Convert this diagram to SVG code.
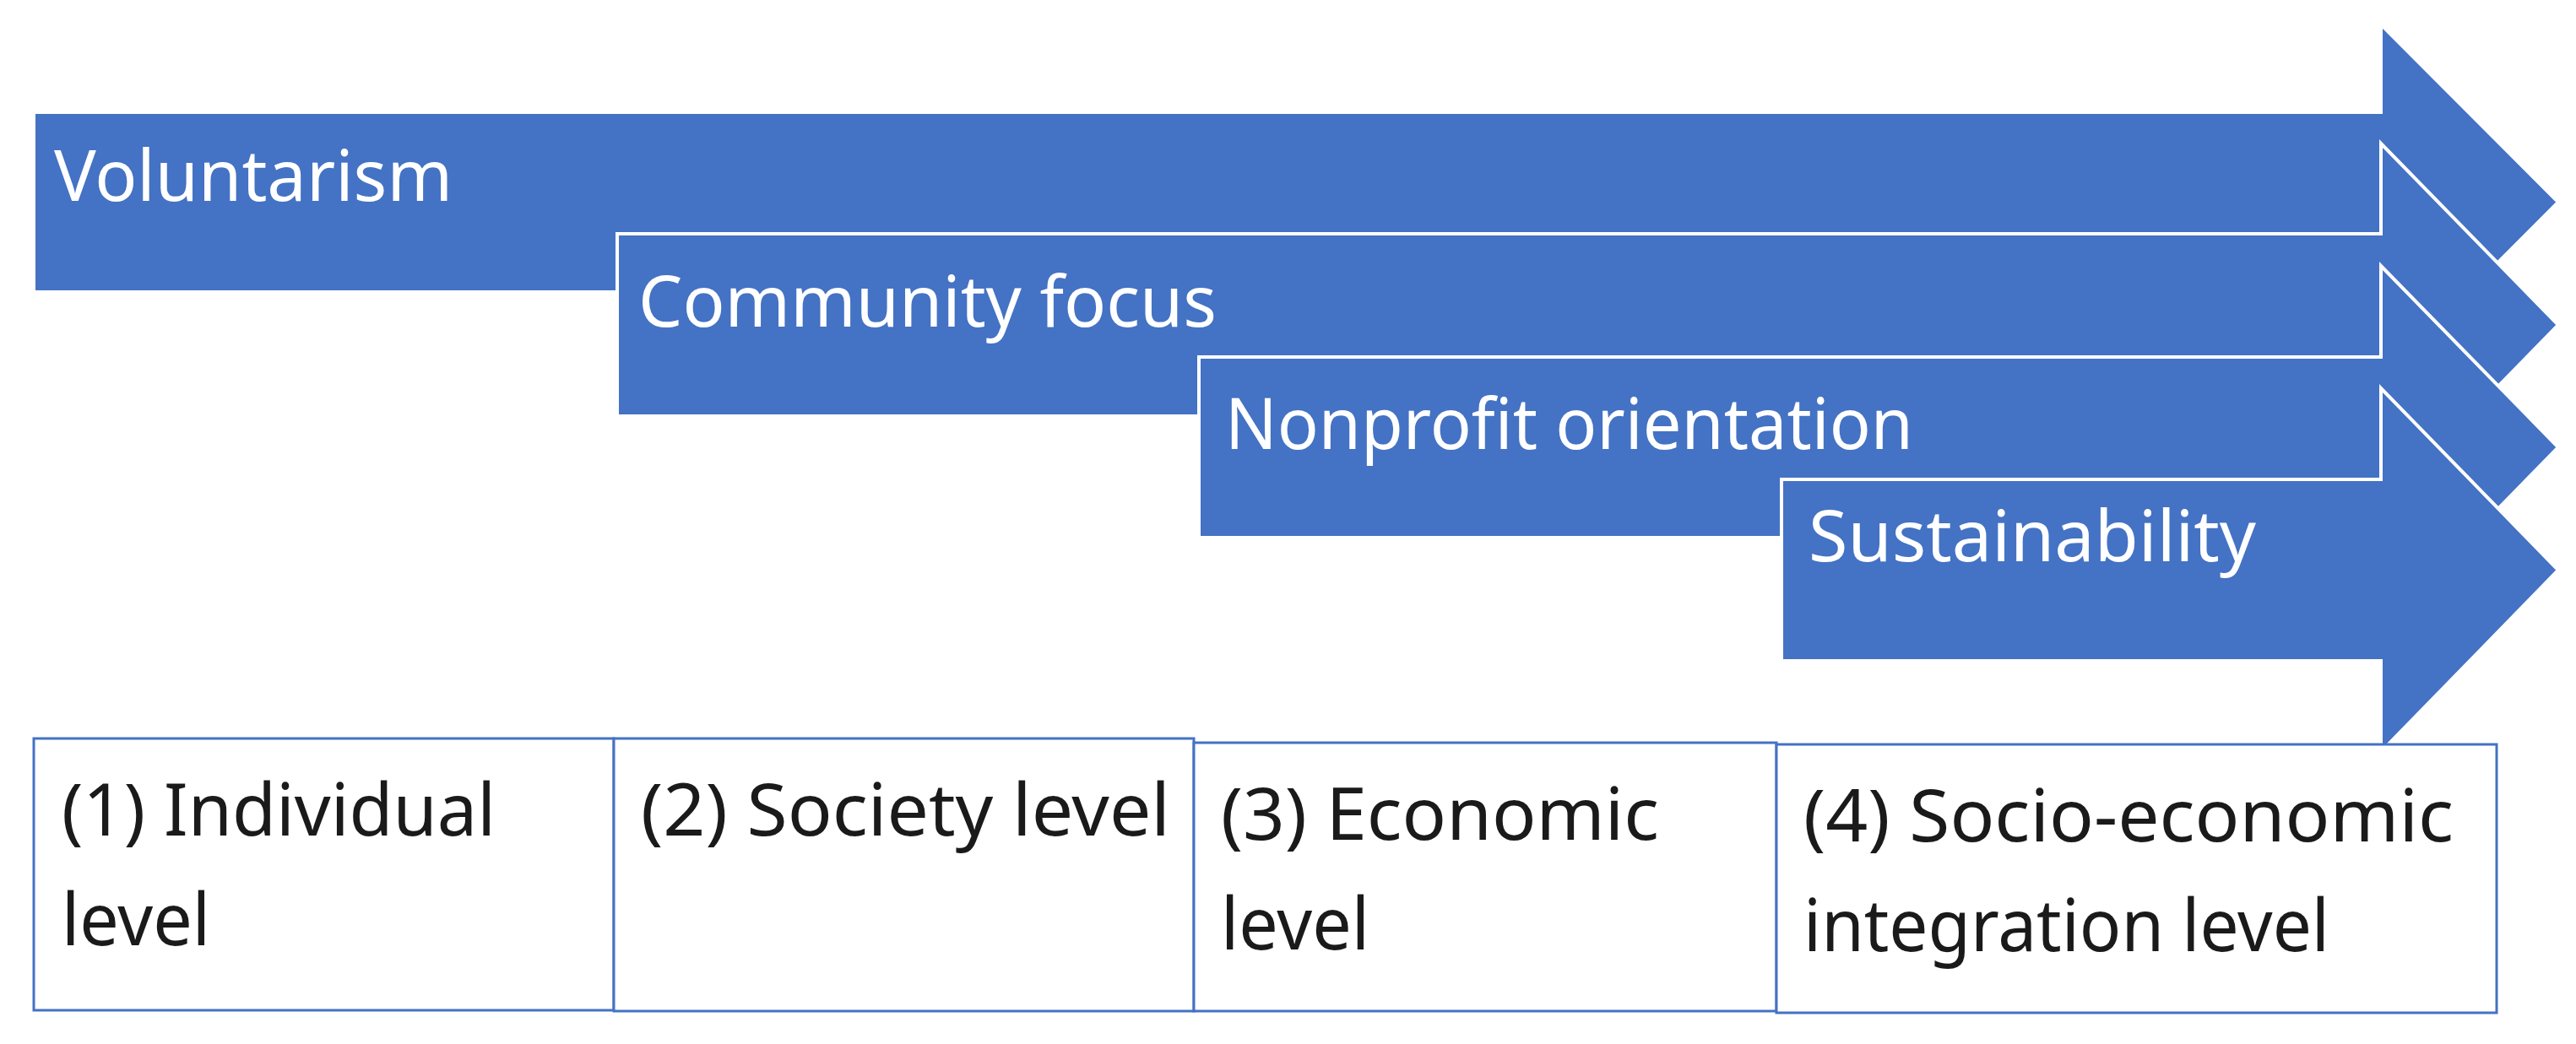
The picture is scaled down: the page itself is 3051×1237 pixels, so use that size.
<svg xmlns="http://www.w3.org/2000/svg" width="3051" height="1237" viewBox="0 0 3051 1237">
<style>
.arrow{fill:#4472C4;stroke:#ffffff;stroke-width:4;stroke-linejoin:miter}
.box{fill:#ffffff;stroke:#4472C4;stroke-width:3}
.al{font-family:"Noto Sans","Liberation Sans",sans-serif;font-size:84px;fill:#ffffff}
.bl{font-family:"Noto Sans","Liberation Sans",sans-serif;font-size:86px;fill:#1a1a1a}
</style>
<rect width="3051" height="1237" fill="#ffffff"/>
<g id="arrow-voluntarism">
<polygon class="arrow" points="40,133 2820,133 2820,29 3030,239.5 2820,450 2820,346 40,346"/>
<text class="al" x="64" y="238" textLength="472" lengthAdjust="spacingAndGlyphs">Voluntarism</text>
</g>
<g id="arrow-community">
<polygon class="arrow" points="731,277 2820,277 2820,170 3030,385 2820,600 2820,493 731,493"/>
<text class="al" x="756" y="387" textLength="685" lengthAdjust="spacingAndGlyphs">Community focus</text>
</g>
<g id="arrow-nonprofit">
<polygon class="arrow" points="1420,423 2820,423 2820,315 3030,530 2820,745 2820,637 1420,637"/>
<text class="al" x="1451" y="532" textLength="815" lengthAdjust="spacingAndGlyphs">Nonprofit orientation</text>
</g>
<g id="arrow-sustainability">
<polygon class="arrow" points="2110,568 2820,568 2820,460 3030,675.5 2820,891 2820,783 2110,783"/>
<text class="al" x="2142" y="665" textLength="530" lengthAdjust="spacingAndGlyphs">Sustainability</text>
</g>
<g id="box-individual">
<rect class="box" x="40" y="875" width="687" height="322"/>
<text class="bl" x="73" y="990" textLength="514" lengthAdjust="spacingAndGlyphs">(1) Individual</text>
<text class="bl" x="73" y="1120" textLength="176" lengthAdjust="spacingAndGlyphs">level</text>
</g>
<g id="box-society">
<rect class="box" x="727" y="875" width="687" height="323"/>
<text class="bl" x="759" y="990" textLength="627" lengthAdjust="spacingAndGlyphs">(2) Society level</text>
</g>
<g id="box-economic">
<rect class="box" x="1414" y="880" width="690" height="318"/>
<text class="bl" x="1446" y="995" textLength="519" lengthAdjust="spacingAndGlyphs">(3) Economic</text>
<text class="bl" x="1446" y="1125" textLength="176" lengthAdjust="spacingAndGlyphs">level</text>
</g>
<g id="box-socioeconomic">
<rect class="box" x="2104" y="882" width="853" height="318"/>
<text class="bl" x="2136" y="997" textLength="770" lengthAdjust="spacingAndGlyphs">(4) Socio-economic</text>
<text class="bl" x="2136" y="1127" textLength="623" lengthAdjust="spacingAndGlyphs">integration level</text>
</g>
<g id="connectors"></g>
</svg>
